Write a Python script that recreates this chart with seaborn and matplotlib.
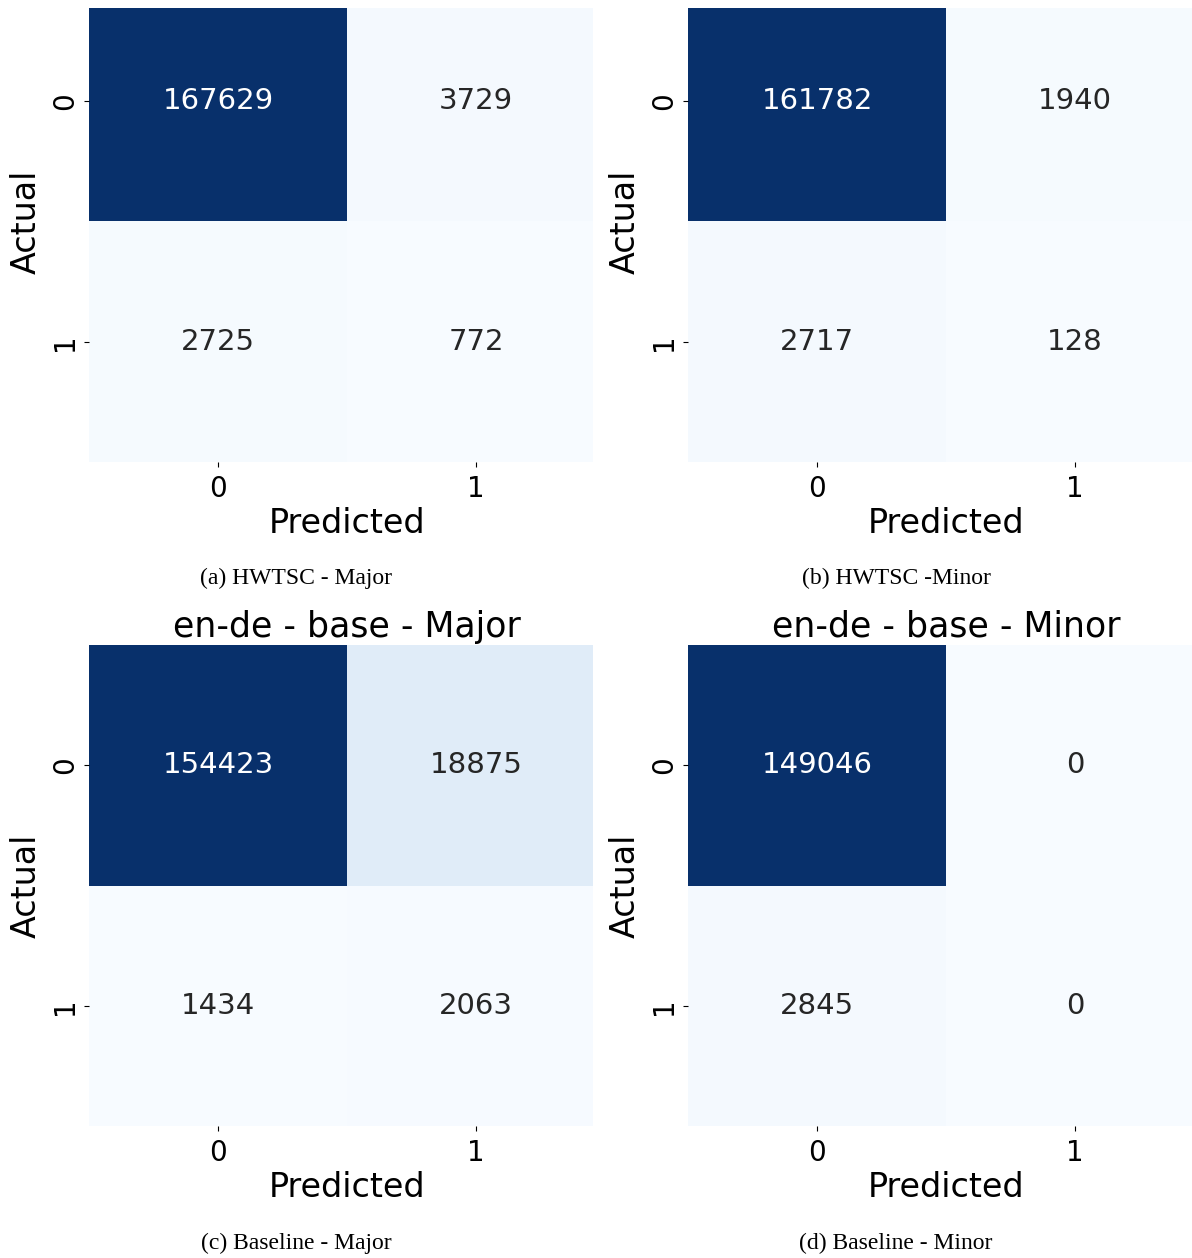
import numpy as np
import matplotlib
matplotlib.use("Agg")
import matplotlib.pyplot as plt
import seaborn as sns

# Matrices de confusion (filas = actual, columnas = predicho)
labels = ["0", "1"]
hwtsc_major = [[167629, 3729], [2725, 772]]
hwtsc_minor = [[161782, 1940], [2717, 128]]
base_major = [[154423, 18875], [1434, 2063]]
base_minor = [[149046, 0], [2845, 0]]

captions = ["(a) HWTSC - Major", "(b) HWTSC -Minor",
            "(c) Baseline - Major", "(d) Baseline - Minor"]
titles = [None, None, "en-de - base - Major", "en-de - base - Minor"]
matrices = [hwtsc_major, hwtsc_minor, base_major, base_minor]

W, H = 1192, 1258
fig = plt.figure(figsize=(W / 100, H / 100), dpi=100)

# posiciones en pixeles: (izq, arriba, abajo), ancho visible 504 px, celda 258 px
cell_w = 258
panels = [(89, 8, 462), (688, 8, 462), (89, 645, 1126), (688, 645, 1126)]
cap_pos = [(296, 578), (896, 578), (296, 1243), (896, 1243)]

for i, (left, top, bottom) in enumerate(panels):
    vis_w = 504
    ax = fig.add_axes([left / W, 1 - bottom / H, vis_w / W, (bottom - top) / H])
    cm = np.array(matrices[i])
    sns.heatmap(cm, annot=True, fmt="d", cmap="Blues", cbar=False, ax=ax,
                xticklabels=labels, yticklabels=labels,
                annot_kws={"size": 21})
    cell_h = 240.5
    ax.set_xlim(0, vis_w / cell_w)
    ax.set_ylim(2, 2 - (bottom - top) / cell_h)
    ax.set_xlabel("Predicted", fontsize=24, labelpad=3)
    ax.set_ylabel("Actual", fontsize=24, labelpad=6)
    ax.tick_params(axis="both", labelsize=20)
    ax.tick_params(axis="x", pad=6)
    ax.set_yticklabels(labels, rotation=90, va="center")
    ax.xaxis.label.set_x(1 / (vis_w / cell_w))
    ax.yaxis.label.set_y(cell_h / (bottom - top))
    if titles[i]:
        ax.set_title(titles[i], fontsize=25, pad=6, x=1 / (vis_w / cell_w))
    cx, cy = cap_pos[i]
    fig.text(cx / W, 1 - cy / H, captions[i], ha="center", va="center",
             fontsize=17, family="Liberation Serif")

fig.savefig("out.png", dpi=100)
